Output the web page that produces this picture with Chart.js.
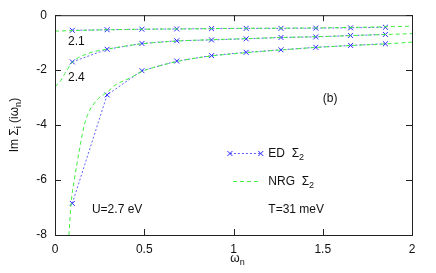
<!DOCTYPE html>
<html>
<head>
<meta charset="utf-8">
<script src="https://cdn.jsdelivr.net/npm/chart.js@4.4.1/dist/chart.umd.min.js"></script>
<style>
  html, body { margin: 0; padding: 0; background: #fff; }
</style>
</head>
<body>
<canvas id="chart" width="436" height="273"></canvas>
<script>
// Matsubara frequencies (ED points)
const omegaN = [0.097, 0.292, 0.487, 0.682, 0.877, 1.071, 1.266, 1.461, 1.656, 1.851];
const edU21 = [-0.55, -0.53, -0.51, -0.50, -0.49, -0.48, -0.48, -0.47, -0.46, -0.44];
const edU24 = [-1.70, -1.24, -1.03, -0.93, -0.90, -0.86, -0.81, -0.79, -0.74, -0.70];
const edU27 = [-6.85, -2.90, -2.02, -1.67, -1.47, -1.35, -1.26, -1.17, -1.10, -1.04];

// NRG curves
const nrgX21 = [0, 0.1, 0.3, 0.5, 0.7, 1.0, 1.3, 1.5, 1.7, 2.0];
const nrgY21 = [-0.58, -0.56, -0.53, -0.51, -0.50, -0.48, -0.47, -0.46, -0.44, -0.40];
const nrgX24 = [0, 0.028, 0.056, 0.097, 0.187, 0.29, 0.49, 0.688, 0.882, 1.08, 1.276, 1.47, 1.669, 1.865, 2.0];
const nrgY24 = [-2.6, -2.42, -2.12, -1.72, -1.39, -1.24, -1.04, -0.94, -0.89, -0.85, -0.81, -0.78, -0.74, -0.70, -0.67];
const nrgX27 = [0.078, 0.090, 0.108, 0.135, 0.164, 0.19, 0.243, 0.29, 0.336, 0.415, 0.49, 0.6, 0.688, 0.8, 0.882, 1.08, 1.276, 1.47, 1.669, 1.865, 2.0];
const nrgY27 = [-8.0, -6.85, -6.0, -4.97, -4.0, -3.52, -3.03, -2.82, -2.55, -2.3, -2.04, -1.82, -1.68, -1.55, -1.48, -1.36, -1.26, -1.17, -1.10, -1.04, -0.98];

const xTicks = [0, 0.5, 1, 1.5, 2];
const yTicks = [-8, -6, -4, -2, 0];

const FONT = '"Liberation Sans", Arial, sans-serif';
const BLUE = "#6262ff";
const BLUE_MARK = "#2a2aff";
const GREEN = "#40ee40";

function pts(xs, ys) {
  return xs.map((x, i) => ({ x: x, y: ys[i] }));
}

function edSet(ys) {
  return {
    data: pts(omegaN, ys),
    borderColor: BLUE,
    borderWidth: 1,
    borderDash: [2, 2],
    pointStyle: "crossRot",
    pointRadius: 3.5,
    pointBorderColor: BLUE_MARK,
    pointBorderWidth: 1,
    tension: 0,
  };
}

function nrgSet(xs, ys) {
  return {
    data: pts(xs, ys),
    borderColor: GREEN,
    borderWidth: 1,
    borderDash: [4, 3],
    pointRadius: 0,
    cubicInterpolationMode: "monotone",
  };
}

// draw text with subscripts: parts = [[text, isSub], ...]
function drawRich(ctx, parts, px, py, measureOnly) {
  let cx = px;
  for (const [t, sub] of parts) {
    ctx.font = (sub ? "9px " : "12px ") + FONT;
    if (!measureOnly) ctx.fillText(t, cx, sub ? py + 3 : py);
    cx += ctx.measureText(t).width;
  }
  return cx - px;
}

const labels = [
  { parts: [["2.1", false]], x: 0.073, y: -1.09 },
  { parts: [["2.4", false]], x: 0.073, y: -2.38 },
  { parts: [["(b)", false]], x: 1.5, y: -3.15 },
  { parts: [["U=2.7 eV", false]], x: 0.207, y: -7.19 },
  { parts: [["T=31 meV", false]], x: 1.195, y: -7.2 },
  { parts: [["ED  Σ", false], ["2", true]], x: 1.195, y: -5.16 },
  { parts: [["NRG  Σ", false], ["2", true]], x: 1.195, y: -6.18 },
];

const decor = {
  id: "decor",
  afterDraw(chart) {
    const { ctx, chartArea: a, scales } = chart;
    const sx = scales.x, sy = scales.y;
    ctx.save();

    // frame and inward ticks
    ctx.strokeStyle = "#222";
    ctx.lineWidth = 1;
    ctx.setLineDash([]);
    ctx.strokeRect(a.left + 0.5, a.top + 0.5, a.right - a.left, a.bottom - a.top);
    ctx.beginPath();
    xTicks.forEach((v) => {
      const p = Math.round(sx.getPixelForValue(v)) + 0.5;
      ctx.moveTo(p, a.bottom); ctx.lineTo(p, a.bottom - 6);
      ctx.moveTo(p, a.top); ctx.lineTo(p, a.top + 6);
    });
    yTicks.forEach((v) => {
      const p = Math.round(sy.getPixelForValue(v)) + 0.5;
      ctx.moveTo(a.left, p); ctx.lineTo(a.left + 6, p);
      ctx.moveTo(a.right, p); ctx.lineTo(a.right - 6, p);
    });
    ctx.stroke();

    // legend samples
    const ly1 = Math.round(sy.getPixelForValue(-5.03)) + 0.5;
    const lx1a = sx.getPixelForValue(0.98), lx1b = sx.getPixelForValue(1.153);
    ctx.strokeStyle = BLUE;
    ctx.setLineDash([2, 2]);
    ctx.beginPath(); ctx.moveTo(lx1a, ly1); ctx.lineTo(lx1b, ly1); ctx.stroke();
    ctx.setLineDash([]);
    ctx.strokeStyle = BLUE_MARK;
    [lx1a, lx1b].forEach((px) => {
      ctx.beginPath();
      ctx.moveTo(px - 2.5, ly1 - 2.5); ctx.lineTo(px + 2.5, ly1 + 2.5);
      ctx.moveTo(px - 2.5, ly1 + 2.5); ctx.lineTo(px + 2.5, ly1 - 2.5);
      ctx.stroke();
    });
    const ly2 = Math.round(sy.getPixelForValue(-6.03)) + 0.5;
    ctx.strokeStyle = GREEN;
    ctx.setLineDash([4, 3]);
    ctx.beginPath();
    ctx.moveTo(sx.getPixelForValue(0.997), ly2);
    ctx.lineTo(sx.getPixelForValue(1.148), ly2);
    ctx.stroke();
    ctx.setLineDash([]);

    // text labels
    ctx.fillStyle = "#111";
    ctx.textBaseline = "alphabetic";
    ctx.textAlign = "left";
    labels.forEach((l) => {
      drawRich(ctx, l.parts, sx.getPixelForValue(l.x), sy.getPixelForValue(l.y));
    });

    // axis titles
    const xt = [["ω", false], ["n", true]];
    const xw = drawRich(ctx, xt, 0, 0, true);
    drawRich(ctx, xt, (a.left + a.right) / 2 + 4 - xw / 2, 262);

    const yt = [["Im Σ", false], ["i", true], [" (iω", false], ["n", true], [")", false]];
    const yw = drawRich(ctx, yt, 0, 0, true);
    ctx.translate(18, (a.top + a.bottom) / 2);
    ctx.rotate(-Math.PI / 2);
    drawRich(ctx, yt, -yw / 2, 0);

    ctx.restore();
  },
};

new Chart(document.getElementById("chart"), {
  type: "line",
  data: {
    datasets: [
      nrgSet(nrgX21, nrgY21),
      nrgSet(nrgX24, nrgY24),
      nrgSet(nrgX27, nrgY27),
      edSet(edU21),
      edSet(edU24),
      edSet(edU27),
    ],
  },
  options: {
    responsive: false,
    animation: false,
    layout: { padding: { top: 15, right: 24, left: 0, bottom: 0 } },
    plugins: { legend: { display: false }, tooltip: { enabled: false } },
    scales: {
      x: {
        type: "linear",
        min: 0,
        max: 2,
        afterBuildTicks: (s) => { s.ticks = xTicks.map((v) => ({ value: v })); },
        afterFit: (s) => { s.height = 38; },
        grid: { display: false, drawTicks: false },
        border: { display: false },
        ticks: {
          padding: 7,
          color: "#111",
          font: { family: FONT, size: 12 },
          maxRotation: 0,
          callback: (v) => String(v),
        },
      },
      y: {
        type: "linear",
        min: -8,
        max: 0,
        afterBuildTicks: (s) => { s.ticks = yTicks.map((v) => ({ value: v })); },
        afterFit: (s) => { s.width = 55; },
        grid: { display: false, drawTicks: false },
        border: { display: false },
        ticks: {
          padding: 8,
          color: "#111",
          font: { family: FONT, size: 12 },
          callback: (v) => String(v),
        },
      },
    },
  },
  plugins: [decor],
});
</script>
</body>
</html>
